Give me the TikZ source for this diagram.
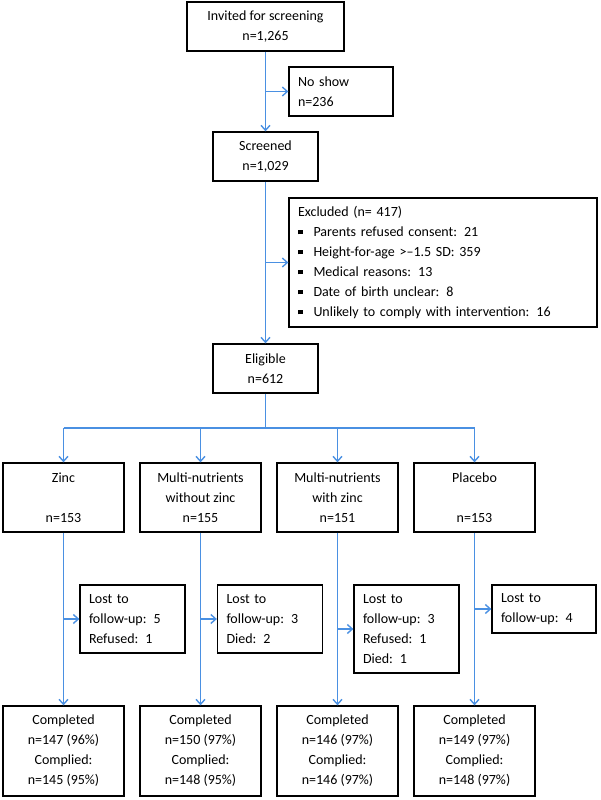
\documentclass[tikz,border=0pt]{standalone}
\usepackage{fontspec}
\setmainfont{Carlito}
\usetikzlibrary{arrows.meta,calc}
\definecolor{flowblue}{RGB}{74,144,226}
\tikzset{
  box/.style={draw, line width=1.3pt, inner sep=0pt, align=center,
    font=\fontsize{14}{20}\selectfont},
  lbox/.style={box, align=left, inner xsep=9pt},
  flow/.style={draw=flowblue, line width=1.4pt},
  arr/.style={flow, -{Straight Barb[length=5pt,width=9pt]}}
}
\newcommand{\blt}{\rule[2pt]{4.5pt}{4.5pt}\hspace{11pt}}
\begin{document}
\begin{tikzpicture}[x=1pt,y=-1pt]
  \useasboundingbox (0,0) rectangle (600,800);
  % screening
  \node[box, minimum width=157pt, minimum height=49pt] (invited) at (265.5,26.5)
    {Invited for screening\\n=1,265};
  \node[lbox, text width=86pt, minimum height=49pt] (noshow) at (341,91.5)
    {No show\\n=236};
  \node[box, minimum width=105pt, minimum height=49pt] (screened) at (265.5,156.5)
    {Screened\\n=1,029};
  \node[lbox, text width=290pt, minimum height=129pt] (excluded) at (443,262.5)
    {Excluded (n= 417)\\
     \blt Parents refused consent: 21\\
     \blt Height-for-age >--1.5 SD: 359\\
     \blt Medical reasons: 13\\
     \blt Date of birth unclear: 8\\
     \blt Unlikely to comply with intervention: 16};
  \node[box, minimum width=105pt, minimum height=49pt] (eligible) at (265.5,368.5)
    {Eligible\\n=612};
  % arms
  \node[box, minimum width=121pt, minimum height=69pt] (zinc) at (63.5,497.5)
    {Zinc\\~\\n=153};
  \node[box, minimum width=121pt, minimum height=69pt] (mnw) at (200.5,497.5)
    {Multi-nutrients\\without zinc\\n=155};
  \node[box, minimum width=121pt, minimum height=69pt] (mnz) at (337.5,497.5)
    {Multi-nutrients\\with zinc\\n=151};
  \node[box, minimum width=121pt, minimum height=69pt] (placebo) at (474.5,497.5)
    {Placebo\\~\\n=153};
  % losses
  \node[lbox, text width=87pt, minimum height=68pt] (lost1) at (132.5,619)
    {Lost to\\follow-up: 5\\Refused: 1};
  \node[lbox, text width=87pt, minimum height=68pt] (lost2) at (270,619)
    {Lost to\\follow-up: 3\\Died: 2};
  \node[lbox, text width=87pt, minimum height=88pt] (lost3) at (406.5,629)
    {Lost to\\follow-up: 3\\Refused: 1\\Died: 1};
  \node[lbox, text width=86pt, minimum height=48pt] (lost4) at (544,609)
    {Lost to\\follow-up: 4};
  % completed
  \node[box, minimum width=121pt, minimum height=90pt] (done1) at (63.5,751)
    {Completed\\n=147 (96\%)\\Complied:\\n=145 (95\%)};
  \node[box, minimum width=121pt, minimum height=90pt] (done2) at (200.5,751)
    {Completed\\n=150 (97\%)\\Complied:\\n=148 (95\%)};
  \node[box, minimum width=121pt, minimum height=90pt] (done3) at (337.5,751)
    {Completed\\n=146 (97\%)\\Complied:\\n=146 (97\%)};
  \node[box, minimum width=121pt, minimum height=90pt] (done4) at (474.5,751)
    {Completed\\n=149 (97\%)\\Complied:\\n=148 (97\%)};
  % connectors
  \draw[arr] (invited.south) -- (screened.north);
  \draw[arr] (invited.south |- noshow.west) -- (noshow.west);
  \draw[arr] (screened.south) -- (eligible.north);
  \draw[arr] (screened.south |- excluded.west) -- (excluded.west);
  \coordinate (split) at (265.5,428);
  \draw[flow] (eligible.south) -- (split);
  \draw[flow] (split -| zinc.north) -- (split -| placebo.north);
  \foreach \arm in {zinc,mnw,mnz,placebo}
    \draw[arr] (split -| \arm.north) -- (\arm.north);
  \foreach \arm/\lost/\done in {zinc/lost1/done1,mnw/lost2/done2,mnz/lost3/done3,placebo/lost4/done4}{
    \draw[arr] (\arm.south) -- (\done.north);
    \draw[arr] (\arm.south |- \lost.west) -- (\lost.west);
  }
\end{tikzpicture}
\end{document}
